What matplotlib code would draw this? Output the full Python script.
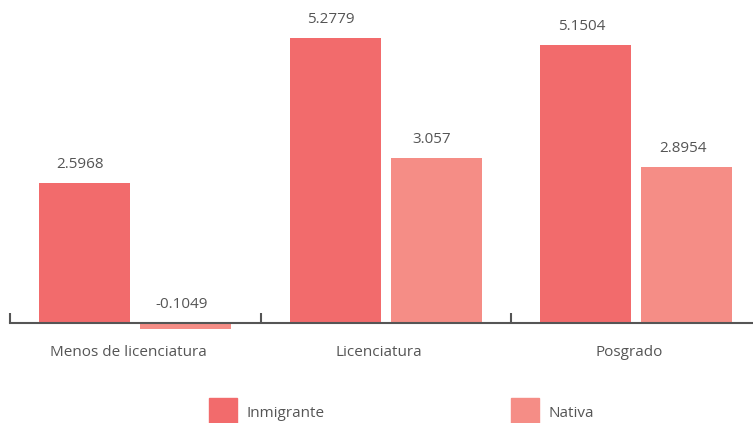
import matplotlib
matplotlib.use("Agg")
from matplotlib import pyplot as plt
from matplotlib.patches import Rectangle
import numpy as np

categorias = ["Menos de licenciatura", "Licenciatura", "Posgrado"]
inmigrante = [2.5968, 5.2779, 5.1504]
nativa = [-0.1049, 3.057, 2.8954]
series = ["Inmigrante", "Nativa"]
colores = ["#F26B6C", "#F58D86"]
gris = "#555555"

plt.rcParams['font.family'] = ['Open Sans', 'DejaVu Sans']

W, H = 753, 423
fig = plt.figure(figsize=(W / 100, H / 100), dpi=100)
# ejes: x desde px 10, 250.5 px por categoria; y 54 px/unidad, cero en px 323
ymin, ymax = -0.2, 5.9
pxu = 54.0
pxc = 250.5
bottom = (H - 323 - (-ymin) * pxu) / H
height = (ymax - ymin) * pxu / H
ax = fig.add_axes([10 / W, bottom, (W - 10) / W, height])

x = np.arange(len(categorias))
ancho = 0.3625
off = 0.202
b1 = ax.bar(x - off, inmigrante, ancho, color=colores[0])
b2 = ax.bar(x + off, nativa, ancho, color=colores[1])

for bars, vals in ((b1, inmigrante), (b2, nativa)):
    for r, v in zip(bars, vals):
        ax.annotate(f"{v:g}", (r.get_x() + r.get_width() / 2, max(v, 0)),
                    xytext=(-3, 8), textcoords="offset points",
                    ha="center", va="bottom", fontsize=11, color=gris)

for xi, c in zip(x, categorias):
    ax.annotate(c, (xi, 0), xytext=(-5, -21.5), textcoords="offset points",
                ha="center", va="center", fontsize=11, color=gris)

for s in ("top", "right", "left"):
    ax.spines[s].set_visible(False)
ax.spines["bottom"].set_position(("data", 0))
ax.spines["bottom"].set_color(gris)
ax.spines["bottom"].set_linewidth(1.5)
ax.set_yticks([])
ax.set_xticks(np.arange(-0.5, len(categorias), 1.0))
ax.set_xticklabels([])
ax.tick_params(axis="x", direction="in", length=7, width=1.5, color=gris)
ax.set_xlim(-0.5, -0.5 + (W - 10) / pxc)
ax.set_ylim(ymin, ymax)

# leyenda
for (px, tx), nombre, col in zip(((209, 246), (511, 548)), series, colores):
    fig.patches.append(Rectangle((px / W, 0), 28 / W, (H - 398) / H,
                                 transform=fig.transFigure, color=col))
    fig.text(tx / W, (H - 413) / H, nombre, ha="left", va="center",
             fontsize=11, color=gris)

fig.savefig("out.png", dpi=100)
